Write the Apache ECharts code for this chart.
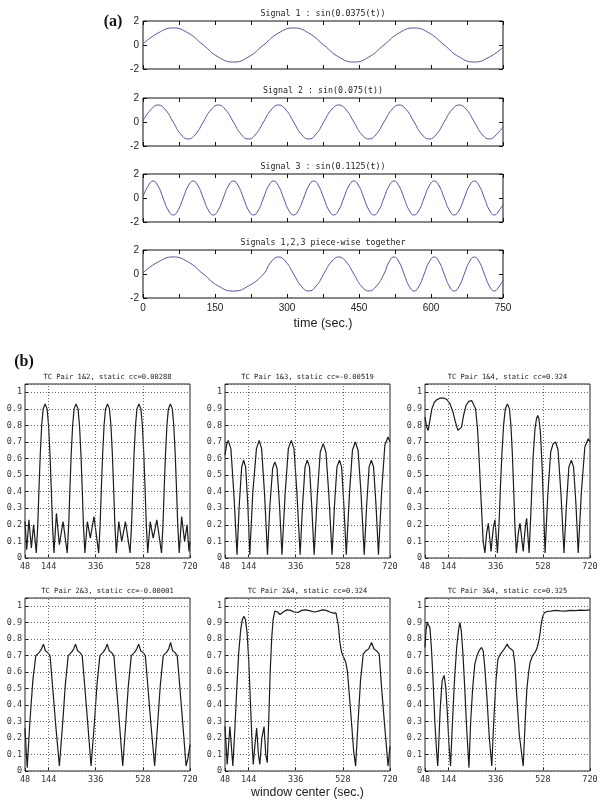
<!DOCTYPE html>
<html><head><meta charset="utf-8">
<script src="https://cdn.jsdelivr.net/npm/echarts@6/dist/echarts.min.js"></script>
<style>html,body{margin:0;padding:0;background:#fff}#c{width:604px;height:811px}</style>
</head><body><div id="c"></div>
<script>
// ---------- tick labels ----------
const xTicksA = [0, 150, 300, 450, 600, 750];
const yTicksA = [-2, 0, 2];
const xTicksB = [48, 144, 336, 528, 720];
const xGridB = [144, 336, 528];
const yTicksB = [0, 0.1, 0.2, 0.3, 0.4, 0.5, 0.6, 0.7, 0.8, 0.9, 1];

// ---------- titles ----------
const titlesA = ['Signal 1 : sin(0.0375(t))', 'Signal 2 : sin(0.075(t))', 'Signal 3 : sin(0.1125(t))', 'Signals 1,2,3 piece-wise together'];
const titlesB = ['TC Pair 1&2, static cc=0.00288', 'TC Pair 1&3, static cc=-0.00519', 'TC Pair 1&4, static cc=0.324',
                 'TC Pair 2&3, static cc=-0.00001', 'TC Pair 2&4, static cc=0.324', 'TC Pair 3&4, static cc=0.325'];

// ---------- panel (a) signals (time, value) ----------
const sig1T = [0,31.4,62.8,94.1,125.5,156.9,188.3,219.6,251,282.4,313.8,345.1,376.5,407.9,439.3,470.6,502,533.4,564.8,596.1,627.5,658.9,690.3,721.6,750];
const sig1V = [0.1,1,1.42,1,0,-1,-1.42,-1,0,1,1.42,1,0,-1,-1.42,-1,0,1,1.42,1,0,-1,-1.42,-1,-0.2];

const sig2T = [0,15.7,31.4,47.1,62.8,78.4,94.1,109.8,125.5,141.2,156.9,172.6,188.3,203.9,219.6,235.3,251,266.7,282.4,298.1,313.8,329.4,345.1,360.8,376.5,392.2,407.9,423.6,439.3,454.9,470.6,486.3,502,517.7,533.4,549.1,564.8,580.4,596.1,611.8,627.5,643.2,658.9,674.6,690.3,705.9,721.6,737.3,750];
const sig2V = [0.1,1,1.42,1,0,-1,-1.42,-1, 0,1,1.42,1,0,-1,-1.42,-1, 0,1,1.42,1,0,-1,-1.42,-1, 0,1,1.42,1,0,-1,-1.42,-1, 0,1,1.42,1,0,-1,-1.42,-1, 0,1,1.42,1,0,-1,-1.42,-1, -0.4];

const sig3T = [0,10.5,20.9,31.4,41.8,52.3,62.8,73.2,83.7,94.1,104.6,115,125.5,136,146.4,156.9,167.3,177.8,188.3,198.7,209.2,219.6,230.1,240.5,251,261.5,271.9,282.4,292.8,303.3,313.8,324.2,334.7,345.1,355.6,366,376.5,387,397.4,407.9,418.3,428.8,439.3,449.7,460.2,470.6,481.1,491.5,502,512.5,522.9,533.4,543.8,554.3,564.8,575.2,585.7,596.1,606.6,617,627.5,638,648.4,658.9,669.3,679.8,690.3,700.7,711.2,721.6,732.1,742.5,750];
const sig3V = [0.1,1,1.42,1,0,-1,-1.42,-1, 0,1,1.42,1,0,-1,-1.42,-1, 0,1,1.42,1,0,-1,-1.42,-1, 0,1,1.42,1,0,-1,-1.42,-1, 0,1,1.42,1,0,-1,-1.42,-1, 0,1,1.42,1,0,-1,-1.42,-1, 0,1,1.42,1,0,-1,-1.42,-1, 0,1,1.42,1,0,-1,-1.42,-1, 0,1,1.42,1,0,-1,-1.42,-1, -0.55];

// ---------- panel (b) sliding-window correlations [window centre, |cc|] ----------
const tc12 = [[48,.22],[55,.05],[64,.23],[74,.06],[83,.2],[94,.03],
 [100,.2],[105,.42],[110,.62],[116,.8],[122,.9],[130,.93],[138,.9],[144,.8],[150,.62],[155,.42],[160,.2],[166,.03],
 [176,.27],[188,.08],[203,.22],
 [220,.03],[226,.2],[231,.42],[236,.62],[242,.8],[248,.9],[256,.93],[264,.9],[270,.8],[276,.62],[281,.42],[286,.2],[292,.03],
 [302,.22],[314,.12],[329,.25],
 [348,.03],[354,.2],[359,.42],[364,.62],[370,.8],[376,.9],[384,.93],[392,.9],[398,.8],[404,.62],[409,.42],[414,.2],[420,.03],
 [430,.22],[442,.1],[457,.22],
 [476,.03],[482,.2],[487,.42],[492,.62],[498,.8],[504,.9],[512,.93],[520,.9],[526,.8],[532,.62],[537,.42],[542,.2],[548,.03],
 [558,.22],[570,.12],[585,.23],
 [604,.03],[610,.2],[615,.42],[620,.62],[626,.8],[632,.9],[640,.93],[648,.9],[654,.8],[660,.62],[665,.42],[670,.2],[676,.03],
 [686,.25],[698,.1],[708,.2],[716,.04],[720,.1]];
const tc13 = [[48,.62],[54,.68],[61,.71],[72,.66],[84,.39],[97,.02],[106,.32],[116,.55],[124,.59],[132,.55],[141,.32],[149,.02],[161,.39],[176,.66],[187,.71],[197,.66],[209,.39],[221,.02],
 [231,.32],[242,.54],[251,.58],[260,.54],[270,.32],[280,.02],[293,.39],[306,.66],[318,.71],[329,.66],[341,.39],[354,.02],[364,.32],[374,.55],[383,.59],[392,.55],[401,.32],[411,.02],
 [424,.38],[436,.64],[448,.69],[459,.64],[471,.38],[484,.02],[494,.32],[504,.55],[514,.59],[523,.55],[532,.32],[542,.02],[555,.39],[567,.65],[579,.70],[590,.65],[602,.39],[615,.02],
 [625,.32],[635,.55],[644,.59],[653,.55],[663,.32],[673,.02],[686,.4],[699,.68],[712,.73],[720,.70]];
const tc14 = [[48,.85],[55,.79],[61,.77],[68,.83],[76,.9],[86,.94],[96,.955],[110,.965],[125,.965],[138,.955],[150,.93],[162,.88],[172,.82],[182,.77],[190,.76],[197,.79],[205,.86],[215,.92],[226,.945],[238,.95],[246,.94],[254,.9],[262,.78],[270,.55],[278,.3],[285,.1],[292,.03],
 [299,.15],[306,.21],[317,.04],[326,.18],[333,.23],[343,.03],[350,.22],[355,.42],[361,.62],[368,.8],[375,.9],[384,.93],[392,.9],[398,.8],[404,.62],[409,.42],[414,.2],[420,.03],
 [428,.15],[435,.21],[448,.04],[456,.18],[462,.24],[472,.03],[480,.3],[488,.6],[496,.78],[502,.84],[507,.86],[512,.84],[518,.76],[525,.55],[531,.3],[537,.03],
 [548,.38],[560,.64],[570,.69],[580,.70],[590,.65],[602,.38],[614,.03],[624,.32],[634,.55],[644,.59],[653,.55],[663,.32],[672,.03],[685,.4],[699,.67],[713,.72],[720,.70]];
const tc23 = [[48,.26],[53,.12],[57,.02],[68,.3],[80,.55],[92,.70],[106,.72],[115,.74],[123,.77],[131,.73],[140,.72],[150,.70],[160,.52],[173,.28],[188,.03],
 [202,.3],[212,.52],[224,.70],[237,.72],[246,.74],[254,.77],[262,.73],[271,.72],[281,.70],[291,.52],[304,.28],[317,.03],
 [331,.3],[341,.52],[353,.70],[366,.72],[375,.74],[383,.77],[391,.73],[400,.72],[410,.70],[420,.52],[433,.28],[446,.03],
 [459,.3],[469,.52],[481,.70],[494,.72],[503,.74],[511,.77],[519,.73],[528,.72],[538,.70],[548,.52],[561,.28],[576,.03],
 [589,.3],[599,.52],[611,.70],[624,.72],[633,.74],[641,.78],[649,.73],[658,.72],[668,.70],[678,.52],[691,.28],[704,.03],[712,.08],[720,.16]];
const tc24 = [[48,.27],[57,.04],[68,.27],[80,.03],[88,.25],[96,.5],[104,.72],[112,.86],[119,.92],[125,.94],[131,.92],[138,.84],[145,.66],[152,.4],[158,.18],[163,.04],
 [170,.16],[177,.26],[184,.1],[190,.04],[198,.2],[207,.27],[214,.1],[220,.05],[226,.3],[232,.6],[238,.8],[244,.92],[251,.97],[262,.965],[272,.95],[285,.965],[300,.978],[315,.975],
 [330,.965],[345,.962],[360,.975],[378,.978],[395,.972],[412,.965],[428,.97],[445,.978],[460,.975],[475,.965],[490,.958],[500,.96],[505,.95],[510,.88],[516,.78],[523,.72],
 [531,.69],[540,.66],[547,.6],[555,.45],[564,.28],[572,.12],[580,.03],[590,.3],[600,.55],[611,.71],[622,.73],[633,.74],[645,.78],[655,.74],[665,.73],[676,.71],[686,.5],[698,.28],[712,.03],[720,.15]];
const tc34 = [[48,.75],[52,.85],[57,.9],[61,.91],[68,.87],[74,.75],[80,.58],[88,.3],[96,.1],[100,.03],[105,.2],[110,.38],[118,.55],[126,.58],[133,.5],[139,.35],[146,.15],[152,.03],
 [160,.3],[168,.55],[177,.75],[185,.86],[190,.9],[196,.85],[203,.7],[210,.5],[218,.25],[227,.02],[234,.3],[242,.5],[251,.65],[260,.7],[268,.73],[278,.75],[285,.73],[292,.62],[300,.45],[310,.2],[320,.03],
 [328,.3],[337,.55],[345,.68],[355,.71],[366,.73],[375,.75],[383,.77],[390,.75],[397,.74],[407,.73],[414,.65],[422,.45],[432,.22],[448,.03],
 [456,.3],[463,.5],[470,.6],[476,.66],[486,.7],[496,.72],[503,.74],[510,.78],[516,.83],[522,.9],[528,.94],[534,.96],[544,.968],[560,.97],[580,.975],[600,.972],[620,.97],[640,.975],[660,.973],[680,.976],[700,.975],[720,.978]];
const tcSeries = [tc12, tc13, tc14, tc23, tc24, tc34];

// ---------- signal 4 = signals 1,2,3 piece-wise ----------
const sig1 = sig1T.map((t, i) => [t, sig1V[i]]);
const sig2 = sig2T.map((t, i) => [t, sig2V[i]]);
const sig3 = sig3T.map((t, i) => [t, sig3V[i]]);
const sig4 = sig1.filter(p => p[0] <= 251)
  .concat(sig2.filter(p => p[0] > 251 && p[0] <= 502))
  .concat(sig3.filter(p => p[0] > 502));
const sigSeries = [sig1, sig2, sig3, sig4];

// ---------- layout ----------
const aTops = [21, 98, 174, 250];
const bLefts = [25, 225, 425];
const bTops = [384, 598];
const bHeights = [174, 173];

const grids = [], xAxes = [], yAxes = [], series = [], graphics = [];
const monoFont = 'DejaVu Sans Mono';

aTops.forEach((top, i) => {
  grids.push({ left: 143, top: top, width: 360, height: 48, show: true, borderColor: '#111', borderWidth: 1, backgroundColor: 'transparent' });
  const gi = grids.length - 1;
  ['bottom', 'top'].forEach((pos, k) => {
    xAxes.push({
      gridIndex: gi, type: 'value', position: pos, min: 0, max: 750, interval: 75,
      axisLine: { show: false, onZero: false },
      axisTick: { show: true, inside: true, length: 4, lineStyle: { color: '#111' } },
      axisLabel: { show: (k === 0 && i === 3), margin: 5, fontSize: 10, fontFamily: 'Liberation Sans', color: '#222',
        showMinLabel: true, showMaxLabel: true,
        formatter: v => xTicksA.indexOf(v) >= 0 ? String(v) : '' },
      splitLine: { show: false }
    });
  });
  ['left', 'right'].forEach((pos, k) => {
    yAxes.push({
      gridIndex: gi, type: 'value', position: pos, min: -2, max: 2, interval: 2,
      axisLine: { show: false, onZero: false },
      axisTick: { show: true, inside: true, length: 4, lineStyle: { color: '#111' } },
      axisLabel: { show: k === 0, margin: 4, fontSize: 10, fontFamily: 'Liberation Sans', color: '#222',
        formatter: v => yTicksA.indexOf(v) >= 0 ? String(v) : '' },
      splitLine: { show: false }
    });
  });
  series.push({
    type: 'line', xAxisIndex: 2 * i, yAxisIndex: 2 * i, data: sigSeries[i], smooth: true,
    showSymbol: false, symbol: 'none', lineStyle: { color: '#5454a6', width: 1 }, silent: true
  });
  graphics.push({ type: 'text', x: 323, y: top - 7, style: { text: titlesA[i], fontFamily: monoFont, fontSize: 8.3, fill: '#222', align: 'center', verticalAlign: 'middle' } });
});

bTops.forEach((top, r) => {
  bLefts.forEach((left, c) => {
    const j = r * 3 + c;
    grids.push({ left: left, top: top, width: 165, height: bHeights[r], show: true, borderColor: '#222', borderWidth: 1, backgroundColor: 'transparent' });
    const gi = grids.length - 1;
    xAxes.push({
      gridIndex: gi, type: 'value', min: 48, max: 720, interval: 96,
      axisLine: { show: false, onZero: false },
      axisTick: { show: true, inside: true, length: 3, customValues: xTicksB, lineStyle: { color: '#222' } },
      axisLabel: { customValues: xTicksB, margin: 4, fontSize: 8.5, fontFamily: monoFont, color: '#333',
        showMinLabel: true, showMaxLabel: true,
        formatter: v => xTicksB.indexOf(v) >= 0 ? String(v) : '' },
      splitLine: { show: false }
    });
    yAxes.push({
      gridIndex: gi, type: 'value', min: 0, max: 1.05, interval: 0.1,
      axisLine: { show: false, onZero: false },
      axisTick: { show: true, inside: true, length: 3, lineStyle: { color: '#222' } },
      axisLabel: { margin: 3, fontSize: 8.5, fontFamily: monoFont, color: '#333',
        formatter: v => { const t = yTicksB.find(y => Math.abs(y - v) < 1e-6); return t === undefined ? '' : String(t); } },
      splitLine: { show: true, lineStyle: { type: [1, 2], color: '#666', width: 1 } }
    });
    series.push({
      type: 'line', xAxisIndex: 8 + j, yAxisIndex: 8 + j, data: tcSeries[j], smooth: false,
      showSymbol: false, symbol: 'none', lineStyle: { color: '#1c1c1c', width: 1.2 }, silent: true,
      markLine: { silent: true, symbol: ['none', 'none'], label: { show: false }, animation: false,
        lineStyle: { type: [1, 2], color: '#666', width: 1 },
        data: xGridB.map(x => ({ xAxis: x })) }
    });
    graphics.push({ type: 'text', x: left + 82.5, y: top - 7, style: { text: titlesB[j], fontFamily: monoFont, fontSize: 7.1, fill: '#222', align: 'center', verticalAlign: 'middle' } });
  });
});

graphics.push({ type: 'text', x: 113, y: 22, style: { text: '(a)', fontFamily: 'Liberation Serif', fontWeight: 'bold', fontSize: 16, fill: '#111', align: 'center', verticalAlign: 'middle' } });
graphics.push({ type: 'text', x: 24, y: 362, style: { text: '(b)', fontFamily: 'Liberation Serif', fontWeight: 'bold', fontSize: 16, fill: '#111', align: 'center', verticalAlign: 'middle' } });
graphics.push({ type: 'text', x: 323, y: 324, style: { text: 'time (sec.)', fontFamily: 'Liberation Sans', fontSize: 12.6, fill: '#222', align: 'center', verticalAlign: 'middle' } });
graphics.push({ type: 'text', x: 307.5, y: 793, style: { text: 'window center (sec.)', fontFamily: 'Liberation Sans', fontSize: 12.3, fill: '#222', align: 'center', verticalAlign: 'middle' } });

const chart = echarts.init(document.getElementById('c'), null, { renderer: 'canvas', width: 604, height: 811 });
chart.setOption({
  animation: false,
  backgroundColor: '#fff',
  grid: grids, xAxis: xAxes, yAxis: yAxes, series: series, graphic: graphics
});
</script></body></html>
